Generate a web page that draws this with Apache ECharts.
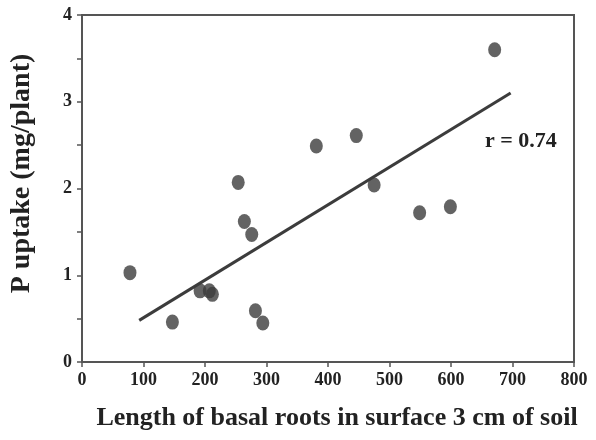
<!DOCTYPE html>
<html>
<head>
<meta charset="utf-8">
<script src="https://cdn.jsdelivr.net/npm/echarts@6/dist/echarts.min.js"></script>
<style>
  html, body { margin: 0; padding: 0; background: #fff; }
  #chart { width: 596px; height: 440px; }
</style>
</head>
<body>
<div id="chart"></div>
<script>
// basal root length vs P uptake
var rootLength = [78, 147, 192, 207, 212, 254, 264, 276, 282, 294, 381, 446, 475, 549, 599, 671];
var pUptake = [1.03, 0.46, 0.82, 0.82, 0.78, 2.07, 1.62, 1.47, 0.59, 0.45, 2.49, 2.61, 2.04, 1.72, 1.79, 3.60];

// regression line end points
var fitX = [93, 697];
var fitY = [0.48, 3.10];

var rText = 'r = 0.74';
var dark = '#3c3c3c';
var font = 'Liberation Serif';

var points = rootLength.map(function (x, i) { return [x, pUptake[i]]; });
var fitLine = fitX.map(function (x, i) { return [x, fitY[i]]; });

var myChart = echarts.init(document.getElementById('chart'));
myChart.setOption({
    animation: false,
    grid: { left: 82, right: 22, top: 15, bottom: 78, show: true, borderColor: '#555', borderWidth: 2 },
    xAxis: {
        type: 'value', min: 0, max: 800, interval: 100,
        name: 'Length of basal roots in surface 3 cm of soil',
        nameLocation: 'middle', nameGap: 43,
        nameTextStyle: { fontFamily: font, fontWeight: 'bold', fontSize: 26, color: '#222', padding: [0, 0, 0, 18] },
        axisLine: { lineStyle: { color: '#555', width: 2 } },
        axisTick: { show: true, length: 5, lineStyle: { color: '#555', width: 1.5 } },
        axisLabel: { fontFamily: font, fontWeight: 'bold', fontSize: 18, color: '#222', margin: 9 },
        splitLine: { show: false }
    },
    yAxis: {
        type: 'value', min: 0, max: 4, interval: 1,
        name: 'P uptake (mg/plant)',
        nameLocation: 'middle', nameGap: 46,
        nameTextStyle: { fontFamily: font, fontWeight: 'bold', fontSize: 28, color: '#222', padding: [0, 0, 0, 30] },
        axisLine: { lineStyle: { color: '#555', width: 2 } },
        axisTick: { show: true, length: 5, lineStyle: { color: '#555', width: 1.5 } },
        minorTick: { show: true, splitNumber: 2, length: 5, lineStyle: { color: '#555', width: 1.5 } },
        axisLabel: { fontFamily: font, fontWeight: 'bold', fontSize: 18, color: '#222', margin: 10 },
        splitLine: { show: false }
    },
    series: [
        {
            type: 'line',
            data: fitLine,
            symbol: 'none',
            lineStyle: { color: dark, width: 3 },
            z: 2
        },
        {
            type: 'scatter',
            data: points,
            symbol: 'circle',
            symbolSize: [13, 15],
            itemStyle: { color: dark },
            z: 3
        }
    ],
    graphic: [{
        type: 'text',
        left: 485, top: 130,
        style: { text: rText, fontFamily: font, fontWeight: 'bold', fontSize: 22, fill: '#222' }
    }]
});
</script>
</body>
</html>
